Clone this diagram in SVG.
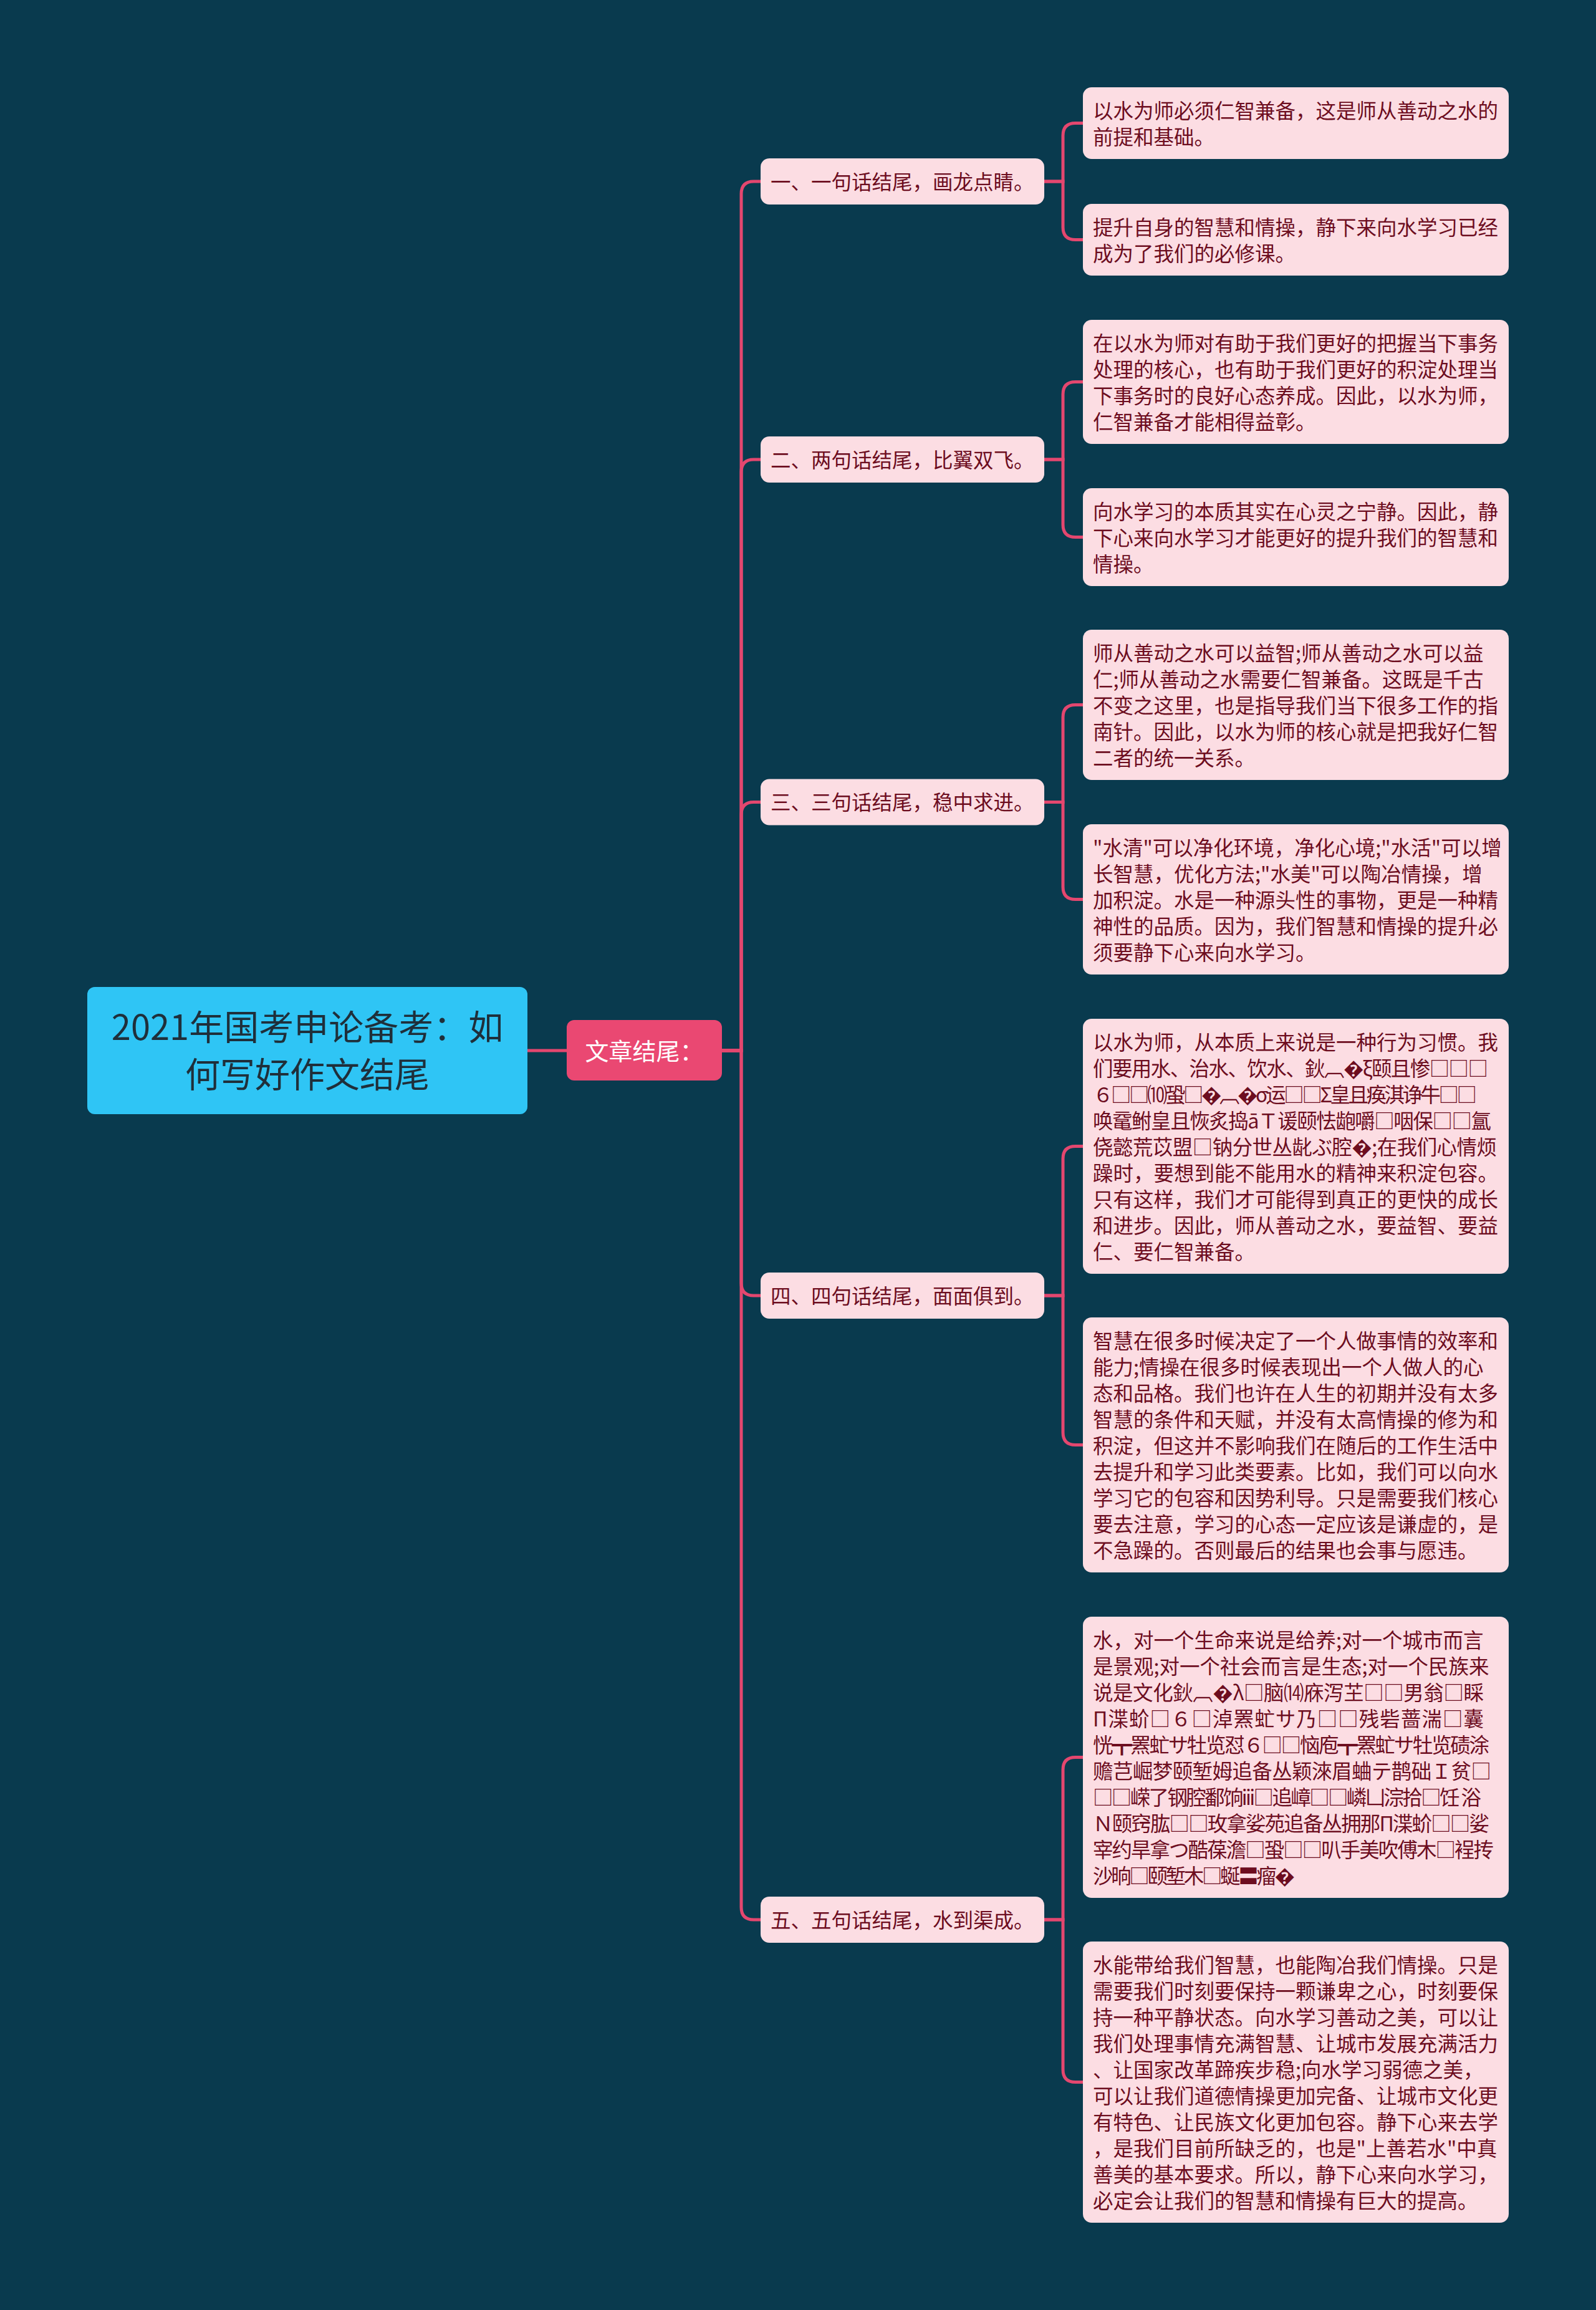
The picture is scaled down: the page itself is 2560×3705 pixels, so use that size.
<svg xmlns="http://www.w3.org/2000/svg" width="2560" height="3705" viewBox="0 0 2560 3705">
<style>
.f{font-family:"Noto Sans CJK SC","Noto Sans",sans-serif}
.leaf{fill:#fcdde3}
.lt{font-size:32.5px;fill:#6d0d1f}
.link{fill:none;stroke:#e4476f;stroke-width:5}
</style>
<rect x="0" y="0" width="2560" height="3705" fill="#093a4e"/>
<g id="connectors" class="link">
<path d="M846,1685 H909"/>
<path d="M1158,1685 H1189 V311 Q1189,291 1209,291 H1220"/>
<path d="M1158,1685 H1189 V757 Q1189,737 1209,737 H1220"/>
<path d="M1158,1685 H1189 V1306.5 Q1189,1286.5 1209,1286.5 H1220"/>
<path d="M1158,1685 H1189 V2058 Q1189,2078 1209,2078 H1220"/>
<path d="M1158,1685 H1189 V3059 Q1189,3079 1209,3079 H1220"/>
<path d="M1675,291 H1705 V217.5 Q1705,197.5 1725,197.5 H1737"/>
<path d="M1675,291 H1705 V364.5 Q1705,384.5 1725,384.5 H1737"/>
<path d="M1675,737 H1705 V632.5 Q1705,612.5 1725,612.5 H1737"/>
<path d="M1675,737 H1705 V841.5 Q1705,861.5 1725,861.5 H1737"/>
<path d="M1675,1286.5 H1705 V1150.5 Q1705,1130.5 1725,1130.5 H1737"/>
<path d="M1675,1286.5 H1705 V1422.5 Q1705,1442.5 1725,1442.5 H1737"/>
<path d="M1675,2078 H1705 V1858.5 Q1705,1838.5 1725,1838.5 H1737"/>
<path d="M1675,2078 H1705 V2297.5 Q1705,2317.5 1725,2317.5 H1737"/>
<path d="M1675,3079 H1705 V2838.5 Q1705,2818.5 1725,2818.5 H1737"/>
<path d="M1675,3079 H1705 V3319.5 Q1705,3339.5 1725,3339.5 H1737"/>
</g>
<g id="root">
<rect x="140" y="1583" width="706" height="204" rx="12" fill="#2fc5f5"/>
<text class="f" x="493" y="1668" font-size="56" fill="#1f2f3a" text-anchor="middle">2021年国考申论备考：如</text>
<text class="f" x="493" y="1744" font-size="56" fill="#1f2f3a" text-anchor="middle">何写好作文结尾</text>
</g>
<g id="main">
<rect x="909" y="1636" width="249" height="97" rx="12" fill="#ea4872"/>
<text class="f" x="1033.5" y="1700" font-size="38" fill="#ffffff" text-anchor="middle">文章结尾：</text>
</g>
<g id="b1"><rect class="leaf" x="1220" y="254" width="455" height="74" rx="14"/><text class="f lt" x="1236" y="303.5">一、一句话结尾，画龙点睛。</text></g>
<g id="b2"><rect class="leaf" x="1220" y="700" width="455" height="74" rx="14"/><text class="f lt" x="1236" y="749.5">二、两句话结尾，比翼双飞。</text></g>
<g id="b3"><rect class="leaf" x="1220" y="1249.5" width="455" height="74" rx="14"/><text class="f lt" x="1236" y="1299">三、三句话结尾，稳中求进。</text></g>
<g id="b4"><rect class="leaf" x="1220" y="2041" width="455" height="74" rx="14"/><text class="f lt" x="1236" y="2090.5">四、四句话结尾，面面俱到。</text></g>
<g id="b5"><rect class="leaf" x="1220" y="3042" width="455" height="74" rx="14"/><text class="f lt" x="1236" y="3091.5">五、五句话结尾，水到渠成。</text></g>
<g id="l1"><rect class="leaf" x="1737" y="140" width="683" height="115" rx="14"/>
<text class="f lt" x="1753" y="189.5">以水为师必须仁智兼备，这是师从善动之水的<tspan x="1753" dy="42">前提和基础。</tspan></text></g>
<g id="l2"><rect class="leaf" x="1737" y="327" width="683" height="115" rx="14"/>
<text class="f lt" x="1753" y="376.5">提升自身的智慧和情操，静下来向水学习已经<tspan x="1753" dy="42">成为了我们的必修课。</tspan></text></g>
<g id="l3"><rect class="leaf" x="1737" y="513" width="683" height="199" rx="14"/>
<text class="f lt" x="1753" y="562.5">在以水为师对有助于我们更好的把握当下事务<tspan x="1753" dy="42">处理的核心，也有助于我们更好的积淀处理当</tspan><tspan x="1753" dy="42">下事务时的良好心态养成。因此，以水为师，</tspan><tspan x="1753" dy="42">仁智兼备才能相得益彰。</tspan></text></g>
<g id="l4"><rect class="leaf" x="1737" y="783" width="683" height="157" rx="14"/>
<text class="f lt" x="1753" y="832.5">向水学习的本质其实在心灵之宁静。因此，静<tspan x="1753" dy="42">下心来向水学习才能更好的提升我们的智慧和</tspan><tspan x="1753" dy="42">情操。</tspan></text></g>
<g id="l5"><rect class="leaf" x="1737" y="1010" width="683" height="241" rx="14"/>
<text class="f lt" x="1753" y="1059.5">师从善动之水可以益智;师从善动之水可以益<tspan x="1753" dy="42">仁;师从善动之水需要仁智兼备。这既是千古</tspan><tspan x="1753" dy="42">不变之这里，也是指导我们当下很多工作的指</tspan><tspan x="1753" dy="42">南针。因此，以水为师的核心就是把我好仁智</tspan><tspan x="1753" dy="42">二者的统一关系。</tspan></text></g>
<g id="l6"><rect class="leaf" x="1737" y="1322" width="683" height="241" rx="14"/>
<text class="f lt" x="1753" y="1371.5">"水清"可以净化环境，净化心境;"水活"可以增<tspan x="1753" dy="42">长智慧，优化方法;"水美"可以陶冶情操，增</tspan><tspan x="1753" dy="42">加积淀。水是一种源头性的事物，更是一种精</tspan><tspan x="1753" dy="42">神性的品质。因为，我们智慧和情操的提升必</tspan><tspan x="1753" dy="42">须要静下心来向水学习。</tspan></text></g>
<g id="l7"><rect class="leaf" x="1737" y="1634" width="683" height="409" rx="14"/>
<text class="f lt" x="1753" y="1683.5">以水为师，从本质上来说是一种行为习惯。我</text>
<text class="f lt" x="1753" y="1725.5" textLength="634">们要用水、治水、饮水、鈥︹�ξ颐且惨□□□</text>
<text class="f lt" x="1753" y="1767.5" textLength="616">６□□⑽蛩□�︹�σ运□□Σ皇且痪淇诤牛□□</text>
<text class="f lt" x="1753" y="1809.5" textLength="639">唤鼋鲋皇且恢炙捣āＴ谖颐怯龅嚼□咽保□□氲</text>
<text class="f lt" x="1753" y="1851.5" textLength="648">侥懿荒苡盟□钠分世丛龀ぶ腔�;在我们心情烦</text>
<text class="f lt" x="1753" y="1893.5">躁时，要想到能不能用水的精神来积淀包容。</text>
<text class="f lt" x="1753" y="1935.5">只有这样，我们才可能得到真正的更快的成长</text>
<text class="f lt" x="1753" y="1977.5">和进步。因此，师从善动之水，要益智、要益</text>
<text class="f lt" x="1753" y="2019.5">仁、要仁智兼备。</text></g>
<g id="l8"><rect class="leaf" x="1737" y="2113" width="683" height="409" rx="14"/>
<text class="f lt" x="1753" y="2162.5">智慧在很多时候决定了一个人做事情的效率和<tspan x="1753" dy="42">能力;情操在很多时候表现出一个人做人的心</tspan><tspan x="1753" dy="42">态和品格。我们也许在人生的初期并没有太多</tspan><tspan x="1753" dy="42">智慧的条件和天赋，并没有太高情操的修为和</tspan><tspan x="1753" dy="42">积淀，但这并不影响我们在随后的工作生活中</tspan><tspan x="1753" dy="42">去提升和学习此类要素。比如，我们可以向水</tspan><tspan x="1753" dy="42">学习它的包容和因势利导。只是需要我们核心</tspan><tspan x="1753" dy="42">要去注意，学习的心态一定应该是谦虚的，是</tspan><tspan x="1753" dy="42">不急躁的。否则最后的结果也会事与愿违。</tspan></text></g>
<g id="l9"><rect class="leaf" x="1737" y="2593" width="683" height="451" rx="14"/>
<text class="f lt" x="1753" y="2642.5">水，对一个生命来说是给养;对一个城市而言</text>
<text class="f lt" x="1753" y="2684.5">是景观;对一个社会而言是生态;对一个民族来</text>
<text class="f lt" x="1753" y="2726.5" textLength="627">说是文化鈥︹�λ□脑⒁庥泻芏□□男翁□睬</text>
<text class="f lt" x="1753" y="2768.5" textLength="627">Π渫蚧□６□淖罴虻サ乃□□残砦蔷湍□囊</text>
<text class="f lt" x="1753" y="2810.5" textLength="636">恍┳罴虻サ牡览怼６□□恼庖┳罴虻サ牡览碛涂</text>
<text class="f lt" x="1753" y="2852.5" textLength="639">赡芑崛梦颐堑姆追备丛颖淶眉蛐テ鹊础Ｉ贫□</text>
<text class="f lt" x="1753" y="2894.5" textLength="623">□□嵘了钢腔鄱饷iii□追嶂□□嶙凵淙拾□饪 浴</text>
<text class="f lt" x="1753" y="2936.5" textLength="636">Ｎ颐窍肱□□玫拿娑苑追备丛拥那Π渫蚧□□娑</text>
<text class="f lt" x="1753" y="2978.5" textLength="643">宰约旱拿つ酷葆澹□蛩□□叭手美吹傅木□裎抟</text>
<text class="f lt" x="1753" y="3020.5" textLength="324">沙晌□颐堑木□蜒〓瘤�</text></g>
<g id="l10"><rect class="leaf" x="1737" y="3114" width="683" height="451" rx="14"/>
<text class="f lt" x="1753" y="3163.5">水能带给我们智慧，也能陶冶我们情操。只是<tspan x="1753" dy="42">需要我们时刻要保持一颗谦卑之心，时刻要保</tspan><tspan x="1753" dy="42">持一种平静状态。向水学习善动之美，可以让</tspan><tspan x="1753" dy="42">我们处理事情充满智慧、让城市发展充满活力</tspan><tspan x="1753" dy="42">、让国家改革蹄疾步稳;向水学习弱德之美，</tspan><tspan x="1753" dy="42">可以让我们道德情操更加完备、让城市文化更</tspan><tspan x="1753" dy="42">有特色、让民族文化更加包容。静下心来去学</tspan><tspan x="1753" dy="42">，是我们目前所缺乏的，也是"上善若水"中真</tspan><tspan x="1753" dy="42">善美的基本要求。所以，静下心来向水学习，</tspan><tspan x="1753" dy="42">必定会让我们的智慧和情操有巨大的提高。</tspan></text></g>
</svg>
